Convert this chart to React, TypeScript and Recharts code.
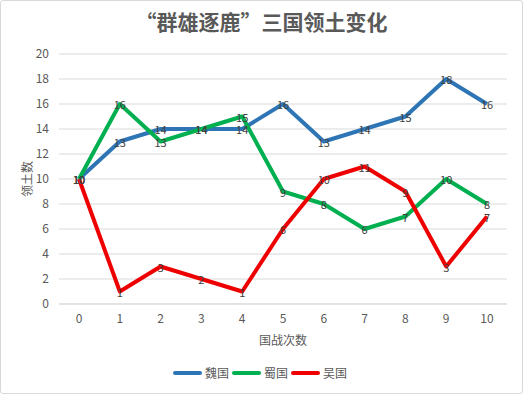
import { CartesianGrid, Label, Legend, Line, LineChart, XAxis, YAxis } from "recharts";

const battles = [0, 1, 2, 3, 4, 5, 6, 7, 8, 9, 10];
const wei = [10, 13, 14, 14, 14, 16, 13, 14, 15, 18, 16];
const shu = [10, 16, 13, 14, 15, 9, 8, 6, 7, 10, 8];
const wu = [10, 1, 3, 2, 1, 6, 10, 11, 9, 3, 7];
const yTicks = [0, 2, 4, 6, 8, 10, 12, 14, 16, 18, 20];

const series = [
	{ key: "wei", name: "魏国", color: "#2E75B6" },
	{ key: "shu", name: "蜀国", color: "#00B050" },
	{ key: "wu", name: "吴国", color: "#EE0000" },
];

const data = battles.map((b, i) => ({ battle: b, wei: wei[i], shu: shu[i], wu: wu[i] }));

const FONT = '"Noto Sans CJK SC", "Microsoft YaHei", sans-serif';

const renderValue = (props: any) => {
	const { x, y, value, index } = props;
	return (
		<text key={index} x={x} y={y} textAnchor="middle" dominantBaseline="central" fontSize={11} fill="#404040" fontFamily={FONT}>
			{value}
		</text>
	);
};

const LegendContent = () => (
	<div style={{ display: "flex", justifyContent: "center", alignItems: "center", fontFamily: FONT, fontSize: 12, color: "#595959" }}>
		{series.map((s) => (
			<div key={s.key} style={{ display: "flex", alignItems: "center", marginRight: 3 }}>
				<span style={{ display: "inline-block", width: 29, height: 4, borderRadius: 2, background: s.color, marginRight: 3 }} />
				<span>{s.name}</span>
			</div>
		))}
	</div>
);

export default function App() {
	return (
		<div
			style={{
				position: "absolute",
				left: 0,
				top: 0,
				width: 523,
				height: 394,
				boxSizing: "border-box",
				border: "1px solid #d9d9d9",
				borderRadius: 3,
				background: "#fff",
				fontFamily: FONT,
			}}
		>
			<div
				style={{
					position: "absolute",
					top: 6,
					left: 0,
					width: "100%",
					textAlign: "center",
					fontSize: 21,
					fontWeight: 600,
					color: "#595959",
					lineHeight: "28px",
				}}
			>
				“群雄逐鹿”三国领土变化
			</div>
			<LineChart
				width={521}
				height={392}
				data={data}
				margin={{ top: 53, right: 15, bottom: 0, left: 0 }}
				style={{ position: "absolute", left: 0, top: 0 }}
			>
				<CartesianGrid vertical={false} stroke="#d9d9d9" />
				<XAxis
					dataKey="battle"
					height={89}
					padding={{ left: 20, right: 20 }}
					axisLine={{ stroke: "#d9d9d9" }}
					tickLine={false}
					tickMargin={4}
					tick={{ fontSize: 12, fill: "#595959", fontFamily: FONT }}
				>
					<Label
						content={({ viewBox }: any) => (
							<text
								x={viewBox.x + viewBox.width / 2}
								y={viewBox.y + 35}
								textAnchor="middle"
								dominantBaseline="central"
								fontSize={12}
								fill="#595959"
								fontFamily={FONT}
							>
								国战次数
							</text>
						)}
					/>
				</XAxis>
				<YAxis
					width={58}
					domain={[0, 20]}
					ticks={yTicks}
					axisLine={false}
					tickLine={false}
					tickMargin={4}
					tick={{ fontSize: 12, fill: "#595959", fontFamily: FONT }}
				>
					<Label
						value="领土数"
						angle={-90}
						position="center"
						dx={-2}
						style={{ fontSize: 12, fill: "#595959", fontFamily: FONT }}
					/>
				</YAxis>
				<Legend
					verticalAlign="middle"
					content={<LegendContent />}
					wrapperStyle={{ top: 363, left: 0, width: 521 }}
				/>
				{series.map((s) => (
					<Line
						key={s.key}
						type="linear"
						dataKey={s.key}
						name={s.name}
						stroke={s.color}
						strokeWidth={4}
						strokeLinejoin="round"
						dot={false}
						activeDot={false}
						label={renderValue}
						isAnimationActive={false}
					/>
				))}
			</LineChart>
		</div>
	);
}
